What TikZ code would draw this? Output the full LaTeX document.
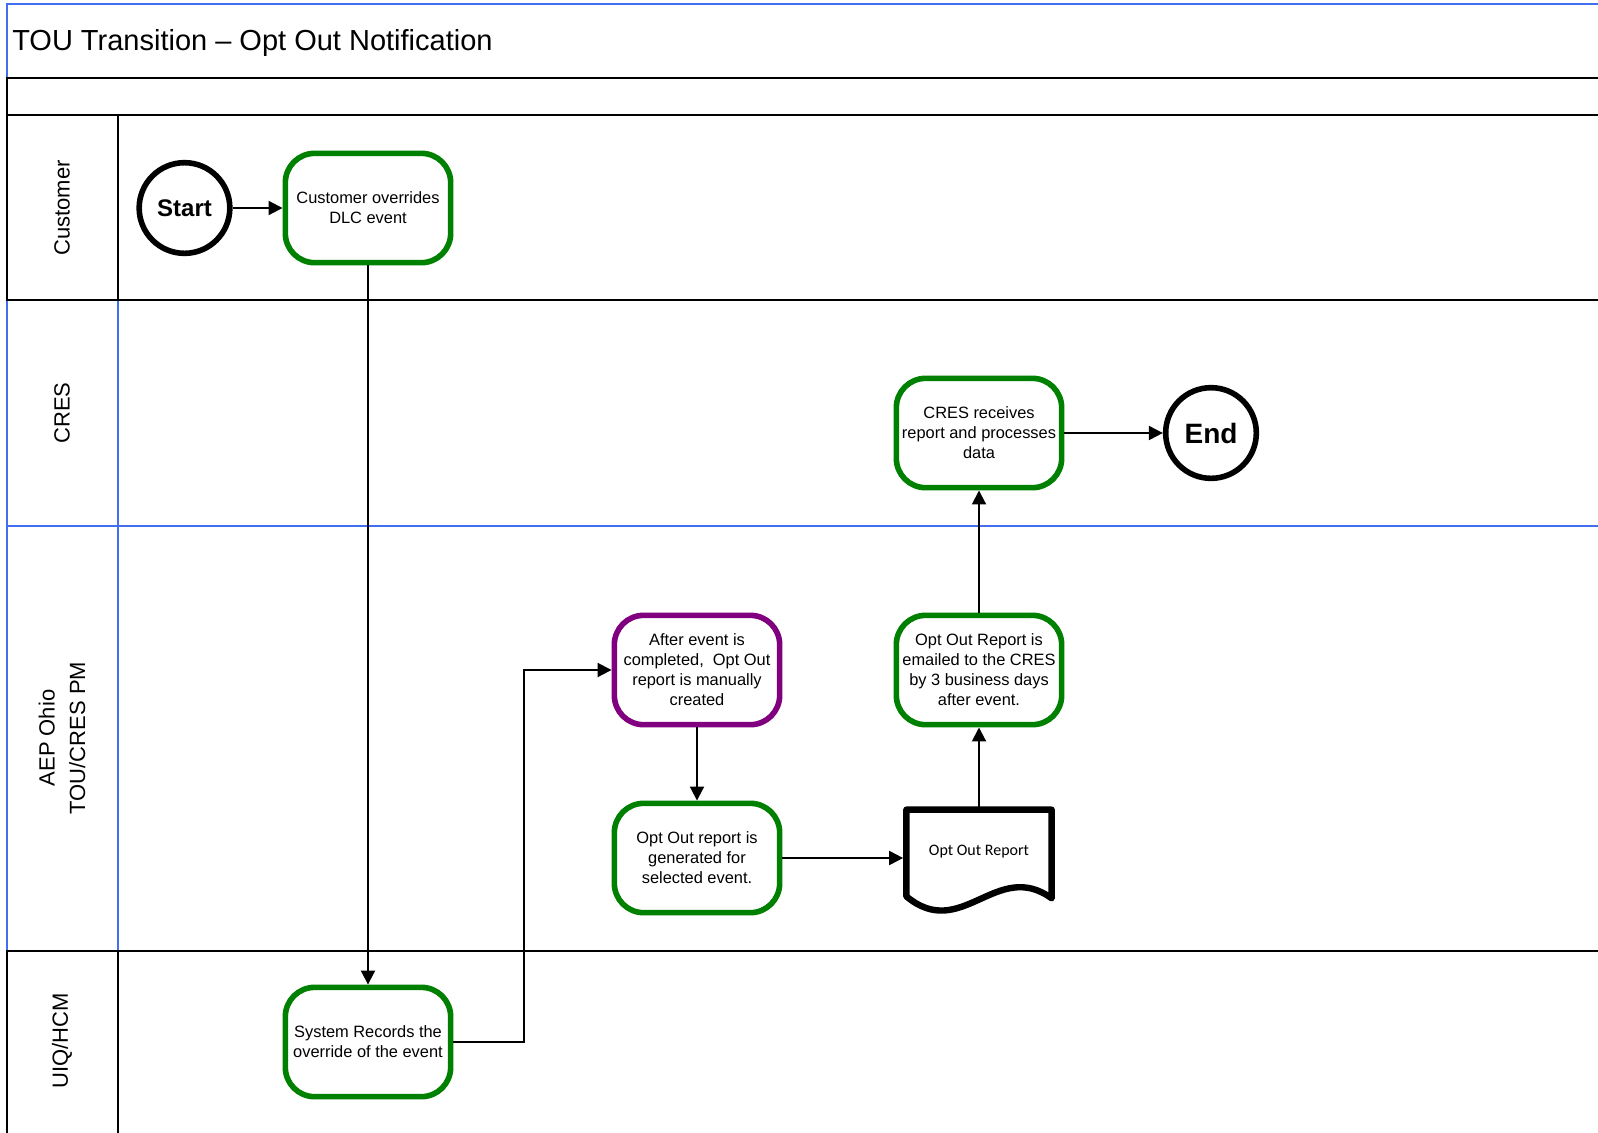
\documentclass[tikz,border=0pt]{standalone}
\usepackage{fontspec}
\setmainfont{Liberation Sans}
\newfontfamily\docfont{Carlito}
\usetikzlibrary{arrows.meta,calc}

\definecolor{stepgreen}{RGB}{0,128,0}
\definecolor{steppurple}{RGB}{128,0,128}
\definecolor{laneblue}{RGB}{66,110,240}

\begin{document}
\begin{tikzpicture}[x=0.75pt, y=-0.75pt]
% Diagram style
\tikzset{
    lane/.style={line width=1.1pt, line cap=rect},
    lanelabel/.style={rotate=90, align=center, font=\fontsize{16.5}{23}\selectfont},
    task/.style={draw=stepgreen, line width=4.2pt, rounded corners=22pt, fill=white,
        minimum width=124pt, minimum height=82pt, inner sep=1pt, align=center,
        font=\fontsize{12.3}{15}\selectfont},
    terminal/.style={circle, draw, line width=4.2pt, minimum size=68pt, inner sep=0pt},
    docshape/.style={minimum width=109pt, minimum height=74pt, inner sep=0pt, outer sep=0pt,
        font=\docfont\fontsize{12}{14}\selectfont},
    docline/.style={line width=4.8pt, line join=round},
    flow/.style={line width=1.5pt, -{Triangle[length=10.5pt, width=10.5pt]}}
}
\useasboundingbox (0,0) rectangle (1598,1132);

% Lanes
\draw[lane, laneblue] (1598,4) -- (7,4) -- (7,78);
\draw[lane, laneblue] (7,300) -- (7,951);
\draw[lane, laneblue] (118,300) -- (118,951);
\draw[lane, laneblue] (7,526) -- (1598,526);
\draw[lane] (7,78) -- (1598,78);
\draw[lane] (7,115) -- (1598,115);
\draw[lane] (7,78) -- (7,300);
\draw[lane] (118,115) -- (118,300);
\draw[lane] (7,300) -- (1598,300);
\draw[lane] (7,951) -- (1598,951);
\draw[lane] (7,951) -- (7,1132);
\draw[lane] (118,951) -- (118,1132);

% Titles
\node[anchor=base west, inner sep=0pt, font=\fontsize{21.75}{26}\selectfont] (title) at (12,50) {TOU Transition – Opt Out Notification};
\node[lanelabel] (lcust) at (62,208) {Customer};
\node[lanelabel] (lcres) at (62,413) {CRES};
\node[lanelabel] (laep) at (62,738) {AEP Ohio\\TOU/CRES PM};
\node[lanelabel] (luiq) at (62,1041) {UIQ/HCM};

% Nodes
\node[terminal, font=\bfseries\fontsize{18}{20}\selectfont] (start) at (184.5,208) {Start};
\node[task] (cust) at (368,208) {Customer overrides\\DLC event};
\node[task] (sys) at (368,1042) {System Records the\\override of the event};
\node[task, draw=steppurple] (after) at (697,670) {After event is\\completed, \ Opt Out\\report is manually\\created};
\node[task] (gen) at (697,858) {Opt Out report is\\generated for\\selected event.};
\node[docshape] (rpt) at (979,859) {\raisebox{13.5pt}{Opt Out Report}};
\node[task] (mail) at (979,670) {Opt Out Report is\\emailed to the CRES\\by 3 business days\\after event.};
\node[task] (cres) at (979,433) {CRES receives\\report and processes\\data};
\node[terminal, font=\bfseries\fontsize{21}{24}\selectfont] (end) at (1211,433) {End};

% Report page
\draw[docline] ($(rpt.south west)+(0,-12)$) -- (rpt.north west) -- (rpt.north east) -- ($(rpt.south east)+(0,-10)$)
    .. controls +(-55,-40) and +(55,46) .. ($(rpt.south west)+(0,-12)$) -- cycle;

% Connections
\draw[flow] (start) -- (cust);
\draw[flow] (cust) -- (sys);
\draw[flow] (sys.east) -- ++(71,0) |- (after.west);
\draw[flow] (after) -- (gen);
\draw[flow, shorten >=2.4pt] (gen.east) -- (gen.east -| rpt.west);
\draw[flow] (rpt.north) -- (mail.south);
\draw[flow] (mail) -- (cres);
\draw[flow] (cres) -- (end);
\end{tikzpicture}
\end{document}
